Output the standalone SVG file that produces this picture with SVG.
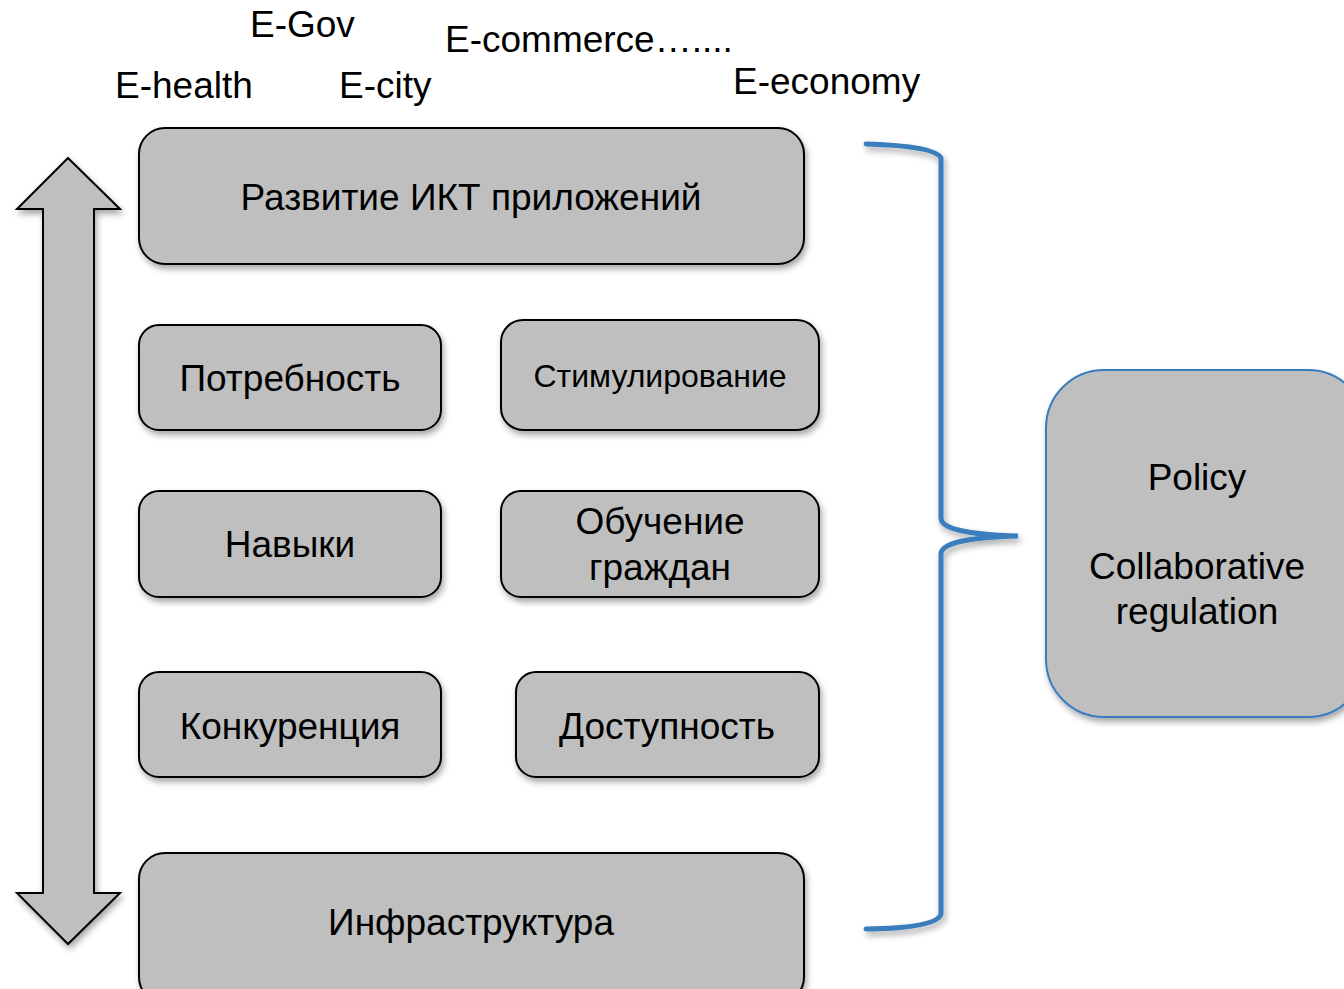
<svg xmlns="http://www.w3.org/2000/svg" width="1344" height="989" viewBox="0 0 1344 989">
<defs>
<filter id="sh" x="-10%" y="-10%" width="130%" height="130%">
<feDropShadow dx="2" dy="4" stdDeviation="3" flood-color="#000" flood-opacity="0.35"/>
</filter>
<style>
.box{fill:#bfbfbf;stroke:#000;stroke-width:2;filter:url(#sh)}
.pol{fill:#bfbfbf;stroke:#3b7bbf;stroke-width:2;filter:url(#sh)}
.t{font-family:"Liberation Sans",Arial,sans-serif;font-size:37px;fill:#000;text-anchor:middle}
.s{font-family:"Liberation Sans",Arial,sans-serif;font-size:32px;fill:#000;text-anchor:middle}
.l{font-family:"Liberation Sans",Arial,sans-serif;font-size:37px;fill:#000}
.br{fill:none;stroke:#3a7ebe;stroke-width:5;stroke-linecap:round;filter:url(#sh)}
</style>
</defs>
<g id="labels">
<text class="l" x="250" y="37">E-Gov</text>
<text class="l" x="445" y="52">E-commerce…....</text>
<text class="l" x="115" y="98">E-health</text>
<text class="l" x="339" y="98">E-city</text>
<text class="l" x="733" y="94">E-economy</text>
</g>
<g id="arrow">
<polygon class="box" points="68,158 120,209 94,209 94,893 120,893 68,944 17,893 43,893 43,209 17,209"/>
</g>
<g id="n-ikt">
<rect class="box" x="139" y="128" width="665" height="136" rx="26"/>
<text class="t" x="471" y="210">Развитие ИКТ приложений</text>
</g>
<g id="n-need">
<rect class="box" x="139" y="325" width="302" height="105" rx="20"/>
<text class="t" x="290" y="391">Потребность</text>
</g>
<g id="n-stim">
<rect class="box" x="501" y="320" width="318" height="110" rx="22"/>
<text class="s" x="660" y="387">Стимулирование</text>
</g>
<g id="n-skills">
<rect class="box" x="139" y="491" width="302" height="106" rx="20"/>
<text class="t" x="290" y="557">Навыки</text>
</g>
<g id="n-edu">
<rect class="box" x="501" y="491" width="318" height="106" rx="20"/>
<text class="t" x="660" y="534">Обучение</text>
<text class="t" x="660" y="580">граждан</text>
</g>
<g id="n-comp">
<rect class="box" x="139" y="672" width="302" height="105" rx="20"/>
<text class="t" x="290" y="739">Конкуренция</text>
</g>
<g id="n-access">
<rect class="box" x="516" y="672" width="303" height="105" rx="20"/>
<text class="t" x="667" y="739">Доступность</text>
</g>
<g id="n-infra">
<rect class="box" x="139" y="853" width="665" height="150" rx="26"/>
<text class="t" x="471" y="935">Инфраструктура</text>
</g>
<g id="connectors">
<path class="br" d="M866,144 Q935,146 941,158 L941,518 Q941,534 1018,536 Q941,538 941,554 L941,914 Q937,928 866,929"/>
</g>
<g id="n-policy">
<rect class="pol" x="1046" y="370" width="320" height="347" rx="58"/>
<text class="t" x="1197" y="490">Policy</text>
<text class="t" x="1197" y="579">Collaborative</text>
<text class="t" x="1197" y="624">regulation</text>
</g>
</svg>
